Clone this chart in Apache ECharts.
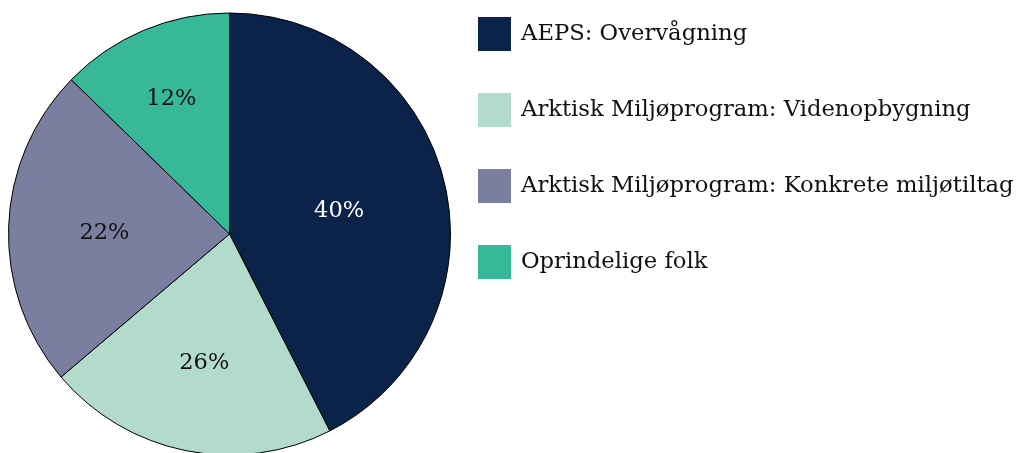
<!DOCTYPE html>
<html>
<head>
<meta charset="utf-8">
<script src="https://cdn.jsdelivr.net/npm/echarts@6/dist/echarts.min.js"></script>
<style>
html,body{margin:0;padding:0;background:#fff;}
#chart{width:1020px;height:453px;}
</style>
</head>
<body>
<div id="chart"></div>
<script>
var categories = [
  'AEPS: Overvågning',
  'Arktisk Miljøprogram: Videnopbygning',
  'Arktisk Miljøprogram: Konkrete miljøtiltag',
  'Oprindelige folk'
];
var values = [42.5, 21.3, 23.5, 12.7];
// Percent labels as printed on the chart
var labelTexts = ['40%', '26%', '22%', '12%'];
var colors = ['#0c2349', '#b3dbcc', '#7b7f9f', '#36b899'];
var labelColors = ['#ffffff', '#111111', '#111111', '#111111'];
var labelRadiusFrac = [0.51, 0.58, 0.566, 0.677];

var CX = 229.5, CY = 234, R = 221;
var FONT = '"DejaVu Serif", serif';

var chart = echarts.init(document.getElementById('chart'), null, {renderer: 'canvas'});

var data = categories.map(function (name, i) {
  return {
    name: name,
    value: values[i],
    itemStyle: {color: colors[i]},
    label: {color: labelColors[i]}
  };
});

chart.setOption({
  backgroundColor: '#ffffff',
  animation: false,
  legend: {
    orient: 'vertical',
    left: 478,
    top: 17,
    padding: 0,
    itemWidth: 33,
    itemHeight: 34,
    itemGap: 42,
    icon: 'rect',
    itemStyle: {borderWidth: 0},
    textStyle: {fontFamily: FONT, fontSize: 22.7, lineHeight: 34, color: '#111111', padding: [0, 0, 0, 5]},
    data: categories
  },
  series: [{
    type: 'pie',
    center: [CX, CY],
    radius: [0, R],
    startAngle: 90,
    clockwise: true,
    avoidLabelOverlap: false,
    data: data,
    itemStyle: {borderColor: '#000000', borderWidth: 1},
    label: {
      show: true,
      position: 'inside',
      fontFamily: FONT,
      fontSize: 22.5,
      formatter: function (p) { return labelTexts[p.dataIndex]; }
    },
    labelLine: {show: false},
    emphasis: {disabled: true},
    labelLayout: function (params) {
      var rect = params.labelRect;
      var lx = rect.x + rect.width / 2;
      var ly = rect.y + rect.height / 2;
      var vx = lx - CX, vy = ly - CY;
      var d = Math.sqrt(vx * vx + vy * vy) || 1;
      var target = labelRadiusFrac[params.dataIndex] * R;
      return {dx: vx / d * (target - d), dy: vy / d * (target - d) + 3};
    }
  }]
});
</script>
</body>
</html>
